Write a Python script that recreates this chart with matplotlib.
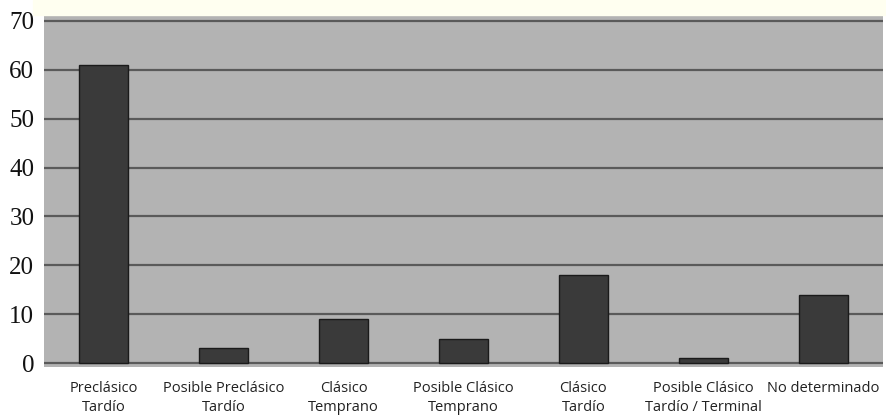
import matplotlib.pyplot as plt
from matplotlib.patches import Rectangle

categories = ["Preclásico\nTardío", "Posible Preclásico\nTardío", "Clásico\nTemprano",
              "Posible Clásico\nTemprano", "Clásico\nTardío", "Posible Clásico\nTardío / Terminal",
              "No determinado"]
values = [61, 3, 9, 5, 18, 1, 14]
yticks = [0, 10, 20, 30, 40, 50, 60, 70]

fig = plt.figure(figsize=(8.86, 4.2), dpi=100)
fig.patches.append(Rectangle((33 / 886, 1 - 15 / 420), 1, 15 / 420, transform=fig.transFigure,
                             color="#fffff0", zorder=0))
ax = fig.add_axes([44 / 886, 1 - 367 / 420, 839 / 886, 352 / 420])
ax.set_facecolor("#b3b3b3")

x = list(range(len(categories)))
ax.bar(x, values, width=0.41, color="#3a3a3a", edgecolor="#1a1a1a", linewidth=1, zorder=3)

ax.set_ylim(-0.8, 71.2)
ax.set_xlim(-0.5, len(categories) - 0.5)
ax.set_yticks(yticks)
ax.yaxis.grid(True, color="#5a5a5a", linewidth=1.6, zorder=1)
ax.set_axisbelow(True)
for s in ax.spines.values():
    s.set_visible(False)

ax.set_yticklabels([str(v) for v in yticks])
for lab in ax.get_yticklabels():
    lab.set_fontfamily("Liberation Serif")
    lab.set_fontsize(18)
    lab.set_color("#111111")
ax.tick_params(axis="y", length=0, pad=7)
ax.set_xticks(x)
ax.set_xticklabels(categories, family="Open Sans", fontsize=10.5, color="#222222", linespacing=1.4)
ax.tick_params(axis="x", length=0, pad=10)

plt.savefig("out.png", dpi=100)
